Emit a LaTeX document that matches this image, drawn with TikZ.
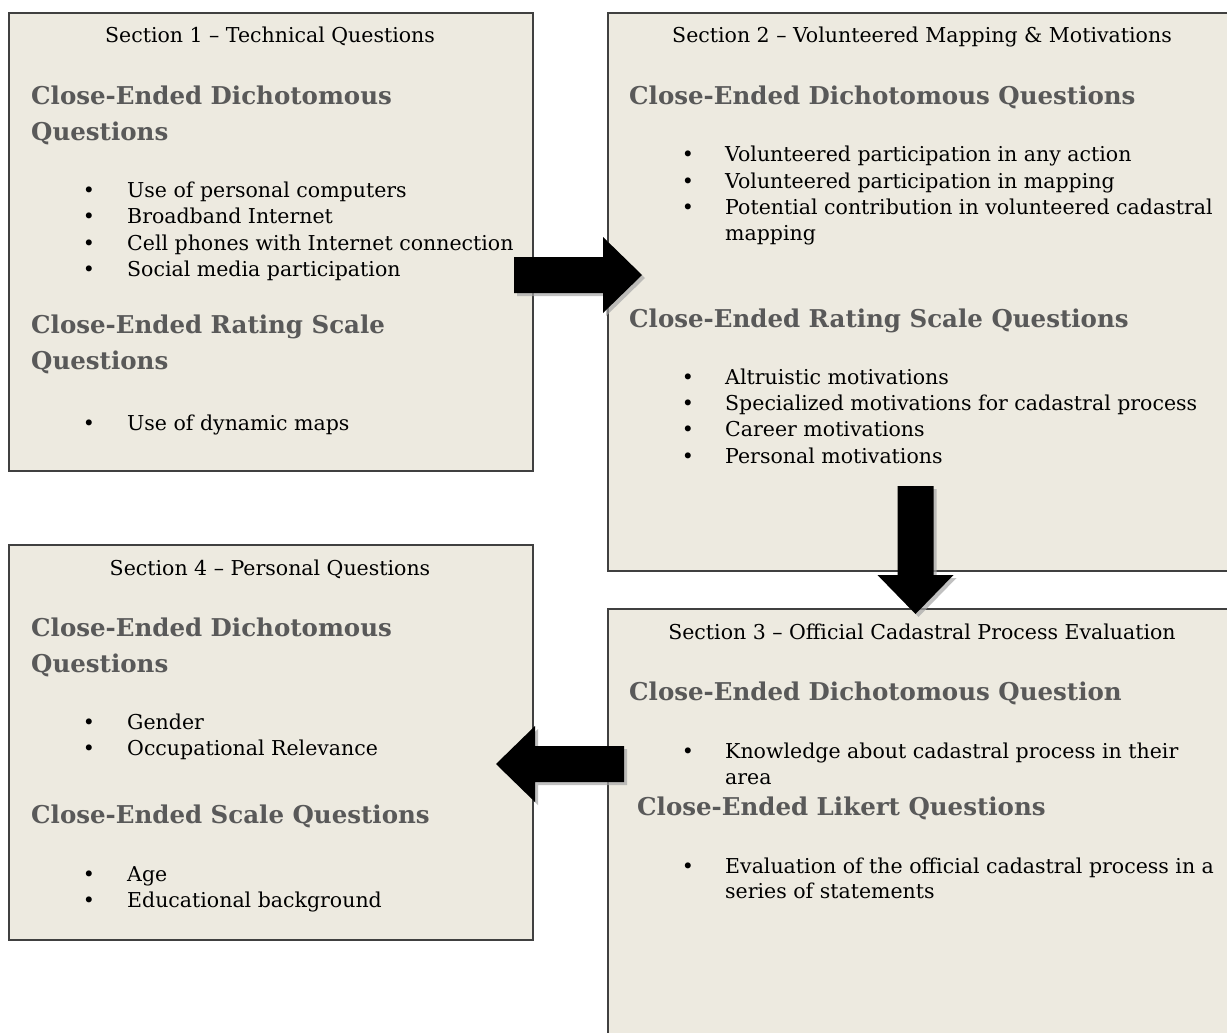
\documentclass[tikz,border=0pt]{standalone}
\usepackage{fontspec}
\setmainfont{DejaVu Serif}
\usetikzlibrary{calc}
\definecolor{panelfill}{HTML}{EDEAE0}
\definecolor{panelline}{HTML}{404040}
\definecolor{headgray}{HTML}{595959}
\tikzset{
  panel/.style={draw=panelline, fill=panelfill, line width=2, anchor=north west, inner sep=0},
  sectitle/.style={font=\fontsize{20.5}{24}\selectfont, anchor=base, inner sep=0},
  head/.style={font=\bfseries\fontsize{24.5}{29}\selectfont, text=headgray, anchor=base west, inner sep=0},
  item/.style={font=\fontsize{20.5}{24}\selectfont, anchor=base west, inner sep=0},
  bul/.style={font=\fontsize{20.5}{24}\selectfont, anchor=base, inner sep=0},
  arrowshape/.pic={
    \fill[pic actions] (0,-18) -- (89,-18) -- (89,-38) -- (128,0) -- (89,38) -- (89,18) -- (0,18) -- cycle;
  }
}
\begin{document}
\begin{tikzpicture}[x=1pt, y=-1pt]
\clip (0,0) rectangle (1227,1033);
\fill[white] (0,0) rectangle (1227,1033);

% the four question panels
\node[panel, minimum width=524, minimum height=458] (box1) at (8,12) {};
\node[panel, minimum width=640, minimum height=558] (box2) at (607,12) {};
\node[panel, minimum width=640, minimum height=440] (box3) at (607,608) {};
\node[panel, minimum width=524, minimum height=395] (box4) at (8,544) {};

% Section 1
\node[sectitle] (t1) at (270,43) {Section 1 – Technical Questions};
\node[head] (h1a) at (31,104) {Close-Ended Dichotomous};
\node[head] (h1b) at (31,140) {Questions};
\foreach \y/\t [count=\i] in {197/Use of personal computers, 223/Broadband Internet, 250/Cell phones with Internet connection, 276/Social media participation}{
  \node[bul] (b1\i) at (89,\y) {•};
  \node[item] (i1\i) at (127,\y) {\t};
}
\node[head] (h1c) at (31,333) {Close-Ended Rating Scale};
\node[head] (h1d) at (31,369) {Questions};
\node[bul] (b15) at (89,430) {•};
\node[item] (i15) at (127,430) {Use of dynamic maps};

% Section 2
\node[sectitle] (t2) at (922,43) {Section 2 – Volunteered Mapping \& Motivations};
\node[head] (h2a) at (629,104) {Close-Ended Dichotomous Questions};
\foreach \y/\t [count=\i] in {161/Volunteered participation in any action, 188/Volunteered participation in mapping, 214/Potential contribution in volunteered cadastral}{
  \node[bul] (b2\i) at (688,\y) {•};
  \node[item] (i2\i) at (725,\y) {\t};
}
\node[item] (i2c) at (725,240) {mapping};
\node[head] (h2b) at (629,327) {Close-Ended Rating Scale Questions};
\foreach \y/\t [count=\i] in {384/Altruistic motivations, 410/Specialized motivations for cadastral process, 436/Career motivations, 463/Personal motivations}{
  \node[bul] (b2\i x) at (688,\y) {•};
  \node[item] (i2\i x) at (725,\y) {\t};
}

% Section 3
\node[sectitle] (t3) at (922,639) {Section 3 – Official Cadastral Process Evaluation};
\node[head] (h3a) at (629,700) {Close-Ended Dichotomous Question};
\node[bul] (b31) at (688,758) {•};
\node[item] (i31) at (725,758) {Knowledge about cadastral process in their};
\node[item] (i31c) at (725,784) {area};
\node[head] (h3b) at (637,815) {Close-Ended Likert Questions};
\node[bul] (b32) at (688,873) {•};
\node[item] (i32) at (725,873) {Evaluation of the official cadastral process in a};
\node[item] (i32c) at (725,898) {series of statements};

% Section 4
\node[sectitle] (t4) at (270,575) {Section 4 – Personal Questions};
\node[head] (h4a) at (31,636) {Close-Ended Dichotomous};
\node[head] (h4b) at (31,672) {Questions};
\foreach \y/\t [count=\i] in {729/Gender, 755/Occupational Relevance}{
  \node[bul] (b4\i) at (89,\y) {•};
  \node[item] (i4\i) at (127,\y) {\t};
}
\node[head] (h4c) at (31,823) {Close-Ended Scale Questions};
\foreach \y/\t [count=\i] in {881/Age, 907/Educational background}{
  \node[bul] (b4\i x) at (89,\y) {•};
  \node[item] (i4\i x) at (127,\y) {\t};
}

% block arrows leading from one section to the next, each with a soft drop shadow
\coordinate (a12) at ($(box1.north east)+(-20,263)$);
\coordinate (a23) at ($(box2.south west)+(308.5,-86)$);
\coordinate (a34) at ($(box3.north west)+(17,156)$);
\foreach \c/\r in {a12/0, a23/-90, a34/180}{
  \pic[fill=black!35, opacity=0.7, shift={(3,3)}, rotate=\r] at (\c) {arrowshape};
  \pic[fill=black, rotate=\r] at (\c) {arrowshape};
}
\end{tikzpicture}
\end{document}
